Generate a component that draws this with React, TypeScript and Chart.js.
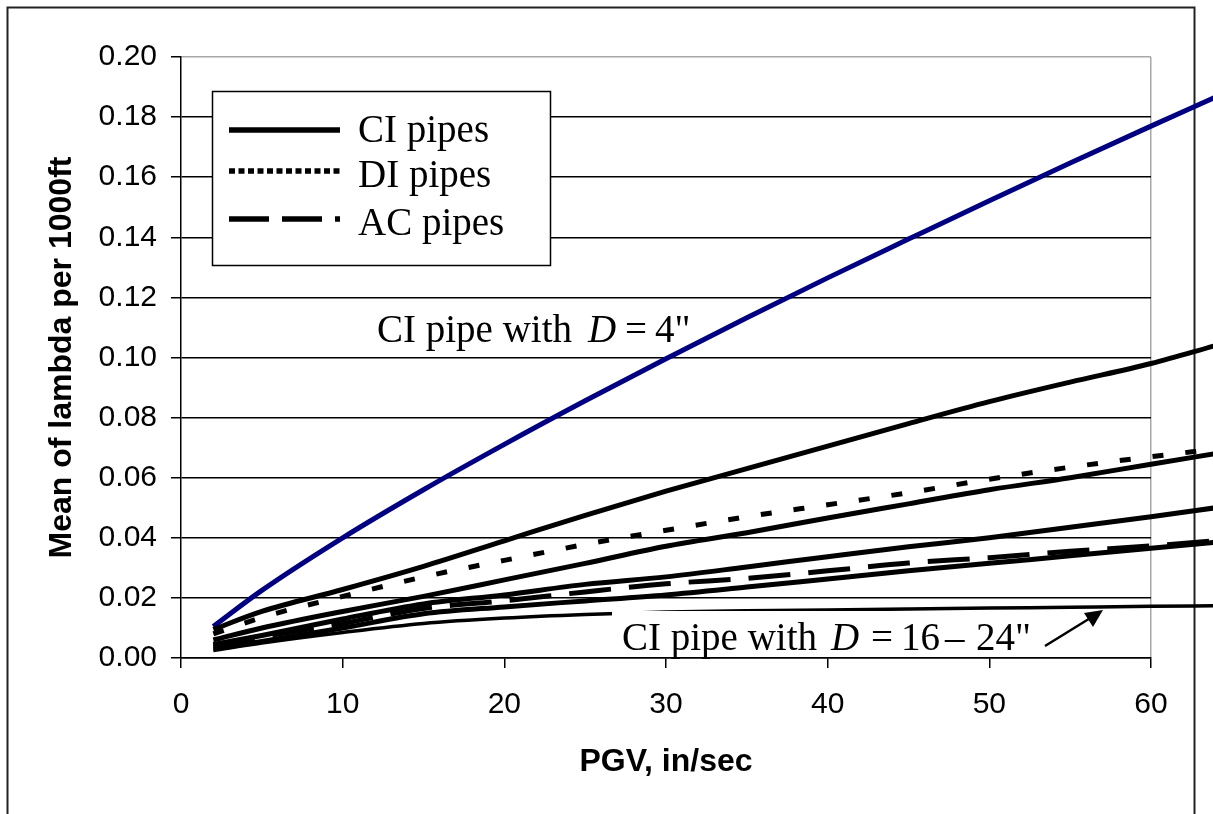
import React, { useEffect, useRef } from "react";
import { Chart, registerables } from "chart.js";
Chart.register(...registerables);

// ---- data ----
const PGV = [2, 5, 10, 15, 20, 25, 30, 35, 40, 45, 50, 55, 60, 64];
const CI_D4 = [0.0105, 0.0225, 0.040, 0.056, 0.0711, 0.0856, 0.0996, 0.1132, 0.1265, 0.1394, 0.1522, 0.1647, 0.177, 0.1867];
const CI_A = [0.0095, 0.0155, 0.0228, 0.0305, 0.039, 0.0475, 0.0555, 0.063, 0.0705, 0.078, 0.0853, 0.0918, 0.098, 0.104];
const DI = [0.008, 0.0135, 0.0205, 0.027, 0.0325, 0.0378, 0.0425, 0.047, 0.051, 0.055, 0.0595, 0.0635, 0.067, 0.0695];
const CI_B = [0.006, 0.010, 0.0155, 0.0205, 0.026, 0.0315, 0.0372, 0.0417, 0.0466, 0.0513, 0.056, 0.060, 0.0645, 0.068];
const CI_C = [0.0045, 0.0075, 0.013, 0.018, 0.021, 0.0245, 0.027, 0.0303, 0.0337, 0.037, 0.040, 0.0435, 0.047, 0.050];
const AC = [0.004, 0.007, 0.0115, 0.0165, 0.019, 0.022, 0.0247, 0.0265, 0.029, 0.0316, 0.0334, 0.0355, 0.0373, 0.039];
const CI_E = [0.003, 0.0055, 0.010, 0.0147, 0.017, 0.019, 0.021, 0.0236, 0.0263, 0.029, 0.0315, 0.034, 0.0365, 0.0385];
const CI_D16_24 = [0.0025, 0.005, 0.0085, 0.0115, 0.0133, 0.0145, 0.0153, 0.0157, 0.016, 0.0163, 0.0166, 0.0169, 0.0172, 0.0174];

const X_MIN = 0;
const X_MAX = 60;
const X_STEP = 10;
const Y_MIN = 0;
const Y_MAX = 0.2;
const Y_STEP = 0.02;

const LEGEND_LABELS = ["CI pipes", "DI pipes", "AC pipes"];
const X_TITLE = "PGV, in/sec";
const Y_TITLE = "Mean of lambda per 1000ft";

const DI_DASH = [11, 22];
const AC_DASH = [42, 18];

const SERIF = '"Liberation Serif", "Times New Roman", serif';
const SANS = '"Liberation Sans", Arial, sans-serif';

const framePlugin = {
  id: "frame",
  beforeDraw(chart: any) {
    const ctx = chart.ctx;
    ctx.save();
    ctx.fillStyle = "#fff";
    ctx.fillRect(0, 0, chart.width, chart.height);
    ctx.strokeStyle = "#222";
    ctx.lineWidth = 2;
    ctx.strokeRect(7.5, 7.5, 1187, 900);
    ctx.restore();
  },
};

function drawPieces(ctx: any, pieces: [string, number, boolean][], baseline: number) {
  for (const [t, x, it] of pieces) {
    ctx.font = (it ? "italic " : "") + "39px " + SERIF;
    ctx.fillText(t, x, baseline);
  }
}

const overlayPlugin = {
  id: "overlay",
  afterDatasetsDraw(chart: any) {
    const ctx = chart.ctx;
    ctx.save();
    ctx.fillStyle = "#000";
    ctx.textBaseline = "alphabetic";
    ctx.textAlign = "left";

    // annotation for D = 16-24" (white label box)
    ctx.fillStyle = "#fff";
    ctx.fillRect(612, 611, 486, 45);
    ctx.fillStyle = "#000";
    drawPieces(ctx, [["CI pipe with", 622, false], ["D", 831, true], ["=", 871, false], ["16", 901, false], ["\u2013", 945, false], ["24\"", 976, false]], 650);

    // arrow
    ctx.strokeStyle = "#000";
    ctx.lineWidth = 2.5;
    ctx.beginPath();
    ctx.moveTo(1045, 646);
    ctx.lineTo(1092, 617);
    ctx.stroke();
    ctx.beginPath();
    ctx.moveTo(1103, 610);
    ctx.lineTo(1084, 613);
    ctx.lineTo(1093, 627);
    ctx.closePath();
    ctx.fill();

    // annotation for D = 4"
    drawPieces(ctx, [["CI pipe with", 377, false], ["D", 588, true], ["=", 625, false], ["4\"", 655, false]], 342);

    // legend box
    ctx.fillStyle = "#fff";
    ctx.fillRect(212.5, 91.5, 338, 174);
    ctx.strokeStyle = "#000";
    ctx.lineWidth = 1.5;
    ctx.strokeRect(212.5, 91.5, 338, 174);
    const rows = [
      { y: 130, dash: [] as number[], tb: 142 },
      { y: 171, dash: [6, 3.5], tb: 187 },
      { y: 219, dash: [40, 13], tb: 235 },
    ];
    rows.forEach((r, i) => {
      ctx.lineWidth = 5.5;
      ctx.lineCap = "butt";
      ctx.setLineDash(r.dash);
      ctx.beginPath();
      ctx.moveTo(229, r.y);
      ctx.lineTo(340, r.y);
      ctx.stroke();
      ctx.setLineDash([]);
      ctx.fillStyle = "#000";
      ctx.font = "39px " + SERIF;
      ctx.fillText(LEGEND_LABELS[i], 358, r.tb);
    });
    ctx.restore();
  },
};

export default function App() {
  const ref = useRef<HTMLCanvasElement>(null);
  useEffect(() => {
    const canvas = ref.current!;
    const mk = (label: string, ys: number[], opts: any = {}) => ({
      label,
      data: PGV.map((x, i) => ({ x, y: ys[i] })),
      borderColor: "#000",
      borderWidth: 5,
      pointRadius: 0,
      fill: false,
      clip: false,
      cubicInterpolationMode: "monotone",
      borderCapStyle: "butt",
      ...opts,
    });
    Chart.defaults.font.family = SANS;
    const chart = new Chart(canvas, {
      type: "line",
      data: {
        datasets: [
          mk("CI D=16-24", CI_D16_24, { borderWidth: 3.5 }),
          mk("CI E", CI_E),
          mk("AC pipes", AC, { borderDash: AC_DASH }),
          mk("CI C", CI_C),
          mk("CI B", CI_B),
          mk("DI pipes", DI, { borderDash: DI_DASH }),
          mk("CI A", CI_A),
          mk("CI D=4", CI_D4, { borderColor: "#000080" }),
        ] as any,
      },
      options: {
        responsive: false,
        animation: false,
        devicePixelRatio: 1,
        layout: { padding: { left: 0, top: 57, right: 62, bottom: 0 } },
        plugins: { legend: { display: false }, tooltip: { enabled: false } },
        scales: {
          x: {
            type: "linear",
            afterDataLimits: (s: any) => { s.min = X_MIN; s.max = X_MAX; },
            afterFit: (s: any) => { s.height = 156; },
            ticks: { stepSize: X_STEP, color: "#000", font: { size: 30 }, padding: 19, maxRotation: 0 },
            grid: {
              color: (c: any) => (c.tick && c.tick.value === X_MAX ? "#a8a8a8" : "rgba(0,0,0,0)"),
              tickColor: "#000",
              tickLength: 10,
              lineWidth: 1.5,
            },
            border: { color: "#000", width: 1.5 },
            title: { display: true, text: X_TITLE, color: "#000", font: { size: 32, weight: "bold" }, padding: { top: 0, bottom: 33 } },
          },
          y: {
            type: "linear",
            min: Y_MIN,
            max: Y_MAX,
            afterFit: (s: any) => { s.width = 181; },
            ticks: { stepSize: Y_STEP, color: "#000", font: { size: 30 }, padding: 14, callback: (v: any) => Number(v).toFixed(2) },
            grid: {
              color: (c: any) => (c.tick && Math.abs(c.tick.value - Y_MAX) < 1e-9 ? "#a8a8a8" : "#000"),
              tickColor: "#000",
              tickLength: 10,
              lineWidth: 1.5,
            },
            border: { color: "#000", width: 1.5 },
            title: { display: true, text: Y_TITLE, color: "#000", font: { size: 32, weight: "bold" }, padding: { top: 43, bottom: 0 } },
          },
        },
      } as any,
      plugins: [framePlugin, overlayPlugin],
    });
    return () => chart.destroy();
  }, []);
  return (
    <div style={{ position: "absolute", left: 0, top: 0, width: 1213, height: 814, background: "#fff", overflow: "hidden" }}>
      <canvas ref={ref} width={1213} height={814} style={{ display: "block", width: 1213, height: 814 }} />
    </div>
  );
}
